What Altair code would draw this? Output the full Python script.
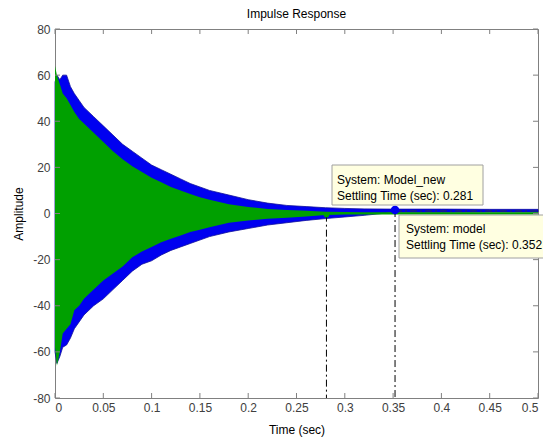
import altair as alt
import pandas as pd

# ---- data (envelopes of the dense oscillations) ----
t = [0, 0.002, 0.005, 0.008, 0.012, 0.016, 0.02, 0.025, 0.03, 0.04, 0.05, 0.06,
     0.07, 0.08, 0.09, 0.10, 0.11, 0.12, 0.13, 0.14, 0.15, 0.16, 0.18, 0.20,
     0.22, 0.24, 0.26, 0.28, 0.30, 0.32, 0.35, 0.40, 0.45, 0.50]
model_hi = [57, 60, 58, 60, 60, 55, 52, 49, 46, 42, 38, 34, 30, 27, 24, 21, 19,
            17, 15, 13, 11.5, 10, 8, 6, 4.5, 3.5, 3, 2.5, 2.2, 2.0, 1.9,
            1.9, 1.8, 1.8]
model_lo = [-60, -65, -62, -58, -57, -54, -50, -47, -44, -40, -37, -33, -29,
            -25, -22, -20.5, -18, -16, -14.5, -13, -11.5, -10, -8, -6.5, -5,
            -4, -3, -2.2, -1.5, -0.8, 0.5, 0.5, 0.6, 0.6]
new_hi = [64, 60, 56, 52, 50, 47, 44, 41, 39, 35, 31, 27, 23.5, 20.5, 18, 15.5,
          13.5, 11.5, 10, 8.5, 7, 6, 4, 2.8, 2, 1.5, 1.2, 0.8, 0.6, 0.5, 0.5,
          0.5, 0.5, 0.5]
new_lo = [-58, -66, -60, -52, -50, -48, -42, -40, -37, -33, -29, -26, -23, -19,
          -16.5, -14.5, -12.5, -11, -9.5, -8, -7, -6, -4, -3, -2.3, -1.8, -1.3,
          -0.6, -0.4, -0.4, -0.4, -0.4, -0.4, -0.4]

settle_t = [0.281, 0.352]
settle_y = [-0.5, 1.5]
settle_sys = ["Model_new", "model"]

x_ticks = [0, 0.05, 0.1, 0.15, 0.2, 0.25, 0.3, 0.35, 0.4, 0.45, 0.5]
y_ticks = [-80, -60, -40, -20, 0, 20, 40, 60, 80]

W, H = 483, 369
BLUE = "#0000F0"
GREEN = "#00A000"
FONT = "Liberation Sans"

df = pd.DataFrame({"t": t, "mhi": model_hi, "mlo": model_lo,
                   "nhi": new_hi, "nlo": new_lo})
xs = alt.Scale(domain=[0, 0.5], nice=False, zero=False)
ys = alt.Scale(domain=[-80, 80], nice=False, zero=False)

base = alt.Chart(df)

model_area = base.mark_area(color=BLUE, stroke="#10109A", strokeWidth=0.8).encode(
    x=alt.X("t:Q", scale=xs, title="Time (sec)",
            axis=alt.Axis(values=x_ticks, labelExpr="'' + datum.value",
                          ticks=False, domain=False, grid=False,
                          labelPadding=4, titlePadding=11)),
    y=alt.Y("mhi:Q", scale=ys, title="Amplitude",
            axis=alt.Axis(values=y_ticks, labelExpr="'' + datum.value",
                          ticks=False, domain=False, grid=False,
                          labelPadding=5, titlePadding=7)),
    y2="mlo:Q",
)
new_area = base.mark_area(color=GREEN).encode(
    x=alt.X("t:Q", scale=xs), y=alt.Y("nhi:Q", scale=ys), y2="nlo:Q")

# settling-time marker lines
sdf = pd.DataFrame({"t": settle_t, "y": settle_y, "sys": settle_sys,
                    "ybot": [-80, -80]})
vlines = alt.Chart(sdf).mark_rule(color="black", strokeWidth=1,
                                  strokeDash=[7, 3, 2, 3]).encode(
    x=alt.X("t:Q", scale=xs), y=alt.Y("y:Q", scale=ys), y2="ybot:Q")
hdf = pd.DataFrame({"t0": [0.352], "t1": [0.5], "y": [1.1]})
hline = alt.Chart(hdf).mark_rule(color="#303050", strokeWidth=1,
                                 strokeDash=[7, 3, 2, 3]).encode(
    x=alt.X("t0:Q", scale=xs), x2="t1:Q", y=alt.Y("y:Q", scale=ys))

dots = alt.Chart(sdf).mark_point(filled=True, opacity=1).encode(
    x=alt.X("t:Q", scale=xs), y=alt.Y("y:Q", scale=ys),
    color=alt.Color("sys:N", scale=alt.Scale(domain=settle_sys,
                                             range=[GREEN, BLUE]), legend=None),
    size=alt.Size("sys:N", scale=alt.Scale(domain=settle_sys, range=[30, 75]),
                  legend=None),
)

# inward ticks on all four sides
xt = pd.DataFrame({"v": x_ticks})
yt = pd.DataFrame({"v": y_ticks})
tick_style = dict(color="#808080", strokeWidth=1)
xt_bot = alt.Chart(xt).mark_rule(**tick_style).encode(
    x=alt.X("v:Q", scale=xs), y=alt.value(H), y2=alt.value(H - 5))
xt_top = alt.Chart(xt).mark_rule(**tick_style).encode(
    x=alt.X("v:Q", scale=xs), y=alt.value(0), y2=alt.value(5))
yt_left = alt.Chart(yt).mark_rule(**tick_style).encode(
    y=alt.Y("v:Q", scale=ys), x=alt.value(0), x2=alt.value(5))
yt_right = alt.Chart(yt).mark_rule(**tick_style).encode(
    y=alt.Y("v:Q", scale=ys), x=alt.value(W), x2=alt.value(W - 5))

# data tip boxes
box1 = alt.Chart(pd.DataFrame({"a": [0]})).mark_rect(
    fill="#FFFFE1", stroke="#A0A0A0", strokeWidth=1).encode(
    x=alt.value(277), x2=alt.value(428), y=alt.value(136), y2=alt.value(176))
box2 = alt.Chart(pd.DataFrame({"a": [0]})).mark_rect(
    fill="#FFFFE1", stroke="#A0A0A0", strokeWidth=1).encode(
    x=alt.value(344), x2=alt.value(520), y=alt.value(186), y2=alt.value(229))

tip_lines1 = ["System: " + settle_sys[0],
              "Settling Time (sec): " + str(settle_t[0])]
tip_lines2 = ["System: " + settle_sys[1],
              "Settling Time (sec): " + str(settle_t[1])]
txt_style = dict(align="left", baseline="middle", fontSize=12, font=FONT,
                 color="black")
tips = []
for i, line in enumerate(tip_lines1):
    tips.append(alt.Chart(pd.DataFrame({"s": [line]})).mark_text(**txt_style).encode(
        text="s:N", x=alt.value(282), y=alt.value(151 + 16 * i)))
for i, line in enumerate(tip_lines2):
    tips.append(alt.Chart(pd.DataFrame({"s": [line]})).mark_text(**txt_style).encode(
        text="s:N", x=alt.value(351), y=alt.value(200 + 16 * i)))

chart = alt.layer(
    model_area, new_area, hline, vlines, dots,
    xt_bot, xt_top, yt_left, yt_right,
    box1, box2, *tips,
).properties(
    width=W, height=H,
    title=alt.Title("Impulse Response", fontSize=12, font=FONT,
                    fontWeight="normal", color="black", offset=2),
    autosize=alt.AutoSizeParams(type="none"),
    padding={"left": 55, "top": 29, "right": 5, "bottom": 41},
).configure(
    background="white",
).configure_view(
    stroke="#808080", strokeWidth=1,
).configure_axis(
    labelFont=FONT, labelFontSize=12, labelColor="#404040",
    titleFont=FONT, titleFontSize=12, titleFontWeight="normal", titleColor="black",
)

chart.save("out.html", embed_options={"renderer": "svg", "actions": False})
